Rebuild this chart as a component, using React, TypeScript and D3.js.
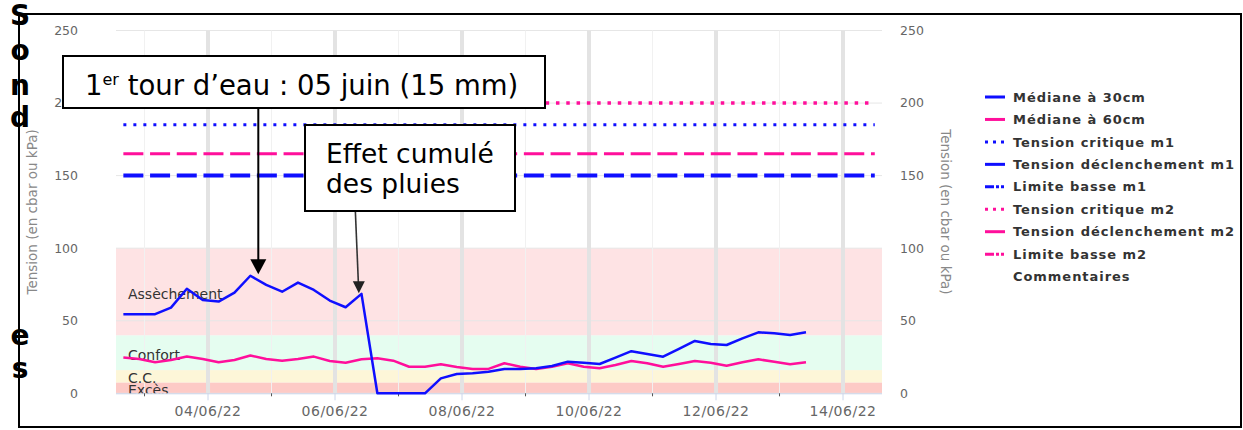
import React from 'react';
import * as d3 from 'd3';

// regular 6-hourly readings, first one on 02/06/22 at 16:00
const firstReading = new Date(2022, 5, 2, 16);
const stepHours = 6;

const median30 = [
  54.5, 54.5, 54.5, 59, 72, 64.3, 63.2, 69.4, 81, 74.7, 70, 76.3, 71.2, 63.9, 59.3, 68.5,
  0, 0, 0, 0, 10.3, 13.3, 13.8, 14.9, 16.8, 16.8, 17.2, 18.8, 21.8, 21.1, 20.2, 24.6,
  29, 27.1, 25.2, 30.6, 36.1, 34, 33.3, 37.9, 42, 41.4, 40.2, 42,
];
const median60 = [
  24.6, 23.7, 21.4, 23, 25.3, 23.7, 21.4, 23, 26, 23.7, 22.4, 23.7, 25.3, 22.3, 21.1, 23.4,
  24.1, 22.5, 18.3, 18.3, 20, 18.1, 16.8, 16.8, 20.7, 18.3, 16.8, 18.3, 20.7, 18.3, 17.2, 19.5,
  22.3, 20.7, 18.3, 20.2, 22.3, 21.1, 19, 21.4, 23.4, 21.8, 20, 21.4,
];

const thresholdNames = ['Tension critique m2', 'Tension critique m1', 'Tension déclenchement m2', 'Tension déclenchement m1'];
const thresholdValues = [200, 185, 165, 150];
const thresholdEnd = new Date(2022, 5, 14, 12);

const bandEdges = [0, 7.5, 16, 40, 100];
const bandLabels = ['Excès', 'C.C.', 'Confort', 'Assèchement'];

const yTicks = [0, 50, 100, 150, 200, 250];
const legendLabels = [
  'Médiane à 30cm',
  'Médiane à 60cm',
  'Tension critique m1',
  'Tension déclenchement m1',
  'Limite basse m1',
  'Tension critique m2',
  'Tension déclenchement m2',
  'Limite basse m2',
  'Commentaires',
];
const sideLetters = ['S', 'o', 'n', 'd', 'e', 's'];

// arrow targets of the two call-outs
const arrowTargets = [
  { date: new Date(2022, 5, 4, 19), value: 82 },
  { date: new Date(2022, 5, 6, 9), value: 69 },
];

const BLUE = '#0f0fff';
const PINK = '#ff0f9b';
const FONT = '"DejaVu Sans", Verdana, sans-serif';

const thresholdStyle = [
  { color: PINK, width: 3.5, dash: '3.5,6.8' },
  { color: BLUE, width: 3, dash: '3,7' },
  { color: PINK, width: 3, dash: '20,6.7' },
  { color: BLUE, width: 4, dash: '20,6.7' },
];
const bandColors = ['#fdcac6', '#fdf6d8', '#e5fdf0', '#fee3e4'];
const legendStyle = [
  { color: BLUE, dash: null },
  { color: PINK, dash: null },
  { color: BLUE, dash: '3,5' },
  { color: BLUE, dash: null },
  { color: BLUE, dash: '9,2,3,2,3,2' },
  { color: PINK, dash: '3,5' },
  { color: PINK, dash: null },
  { color: PINK, dash: '9,2,3,2,3,2' },
  null,
];

export default function App() {
  const width = 1243;
  const height = 430;
  const plot = { left: 116, right: 882, top: 30.5, bottom: 393.3 };

  const x = d3
    .scaleTime()
    .domain([new Date(2022, 5, 2, 13, 13), new Date(2022, 5, 14, 14, 44)])
    .range([plot.left, plot.right]);
  const y = d3.scaleLinear().domain([0, 250]).range([plot.bottom, plot.top]);

  const times = median30.map((_, i) => d3.timeHour.offset(firstReading, i * stepHours));
  const line = d3
    .line<number>()
    .x((_, i) => x(times[i]))
    .y((d) => y(d));

  const days = d3.timeDay.range(new Date(2022, 5, 3), new Date(2022, 5, 15));
  const labelDays = days.filter((d) => d.getDate() % 2 === 0);
  const fmt = d3.timeFormat('%d/%m/%y');

  const a1 = { x: x(arrowTargets[0].date), y: y(arrowTargets[0].value) };
  const a2 = { x: x(arrowTargets[1].date), y: y(arrowTargets[1].value) };

  return (
    <svg
      width={width}
      height={height}
      style={{ position: 'absolute', left: 0, top: 0, background: '#fff' }}
      fontFamily={FONT}
    >
      <defs>
        <clipPath id="plotClip">
          <rect x={plot.left} y={plot.top} width={plot.right - plot.left} height={plot.bottom - plot.top} />
        </clipPath>
      </defs>

      {/* bands */}
      {bandLabels.map((_, i) => (
        <rect
          key={'b' + i}
          x={plot.left}
          width={plot.right - plot.left}
          y={y(bandEdges[i + 1])}
          height={y(bandEdges[i]) - y(bandEdges[i + 1])}
          fill={bandColors[i]}
        />
      ))}

      {/* grid */}
      {yTicks.map((t) => (
        <line key={'h' + t} x1={plot.left} x2={plot.right} y1={y(t)} y2={y(t)} stroke="#e6e6e6" strokeWidth={1} />
      ))}
      {days.map((d) => {
        const thick = d.getDate() % 2 === 0;
        return (
          <line
            key={'v' + d.getTime()}
            x1={x(d)}
            x2={x(d)}
            y1={plot.top}
            y2={plot.bottom}
            stroke={thick ? '#e3e3e3' : '#f1f1f1'}
            strokeWidth={thick ? 4 : 1}
          />
        );
      })}

      {/* x axis */}
      <line x1={plot.left} x2={plot.right} y1={plot.bottom + 0.5} y2={plot.bottom + 0.5} stroke="#ccd6eb" />
      {days.map((d) => {
        const major = d.getDate() % 2 === 0;
        return (
          <line
            key={'t' + d.getTime()}
            x1={x(d)}
            x2={x(d)}
            y1={plot.bottom}
            y2={plot.bottom + (major ? 7 : 3)}
            stroke={major ? '#ccd6eb' : '#555'}
          />
        );
      })}
      {labelDays.map((d) => (
        <text
          key={'l' + d.getTime()}
          x={x(d)}
          y={416}
          textAnchor="middle"
          fontSize={14}
          letterSpacing={0.5}
          fill="#666"
        >
          {fmt(d)}
        </text>
      ))}

      {/* y axes */}
      {yTicks.map((t) => (
        <g key={'yl' + t} fontSize={12.5} fill="#666">
          <text x={78} y={y(t)} dy="0.35em" textAnchor="end">
            {t}
          </text>
          <text x={900} y={y(t)} dy="0.35em" textAnchor="start">
            {t}
          </text>
        </g>
      ))}
      <text
        transform={`translate(37,${y(125)}) rotate(-90)`}
        textAnchor="middle"
        fontSize={13.5}
        fill="#888"
      >
        Tension (en cbar ou kPa)
      </text>
      <text
        transform={`translate(941,${y(125)}) rotate(90)`}
        textAnchor="middle"
        fontSize={13.5}
        fill="#888"
      >
        Tension (en cbar ou kPa)
      </text>

      {/* band labels */}
      <g clipPath="url(#plotClip)">
        {bandLabels.map((lab, i) => (
          <text
            key={'bl' + i}
            x={128}
            y={(y(bandEdges[i]) + y(bandEdges[i + 1])) / 2 + 2}
            dy="0.35em"
            fontSize={14}
            fill="#333"
          >
            {lab}
          </text>
        ))}
      </g>

      {/* threshold lines */}
      {thresholdValues.map((v, i) => (
        <line
          key={'th' + i}
          x1={x(firstReading)}
          x2={x(thresholdEnd)}
          y1={y(v)}
          y2={y(v)}
          stroke={thresholdStyle[i].color}
          strokeWidth={thresholdStyle[i].width}
          strokeDasharray={thresholdStyle[i].dash}
        >
          <title>{thresholdNames[i]}</title>
        </line>
      ))}

      {/* series */}
      <path d={line(median60) || ''} fill="none" stroke={PINK} strokeWidth={2.5} strokeLinejoin="round" />
      <path d={line(median30) || ''} fill="none" stroke={BLUE} strokeWidth={2.5} strokeLinejoin="round" />

      {/* legend */}
      {legendLabels.map((lab, i) => {
        const cy = 97 + i * 22.45;
        const st = legendStyle[i];
        return (
          <g key={'lg' + i}>
            {st && (
              <line
                x1={985}
                x2={1005}
                y1={cy}
                y2={cy}
                stroke={st.color}
                strokeWidth={3}
                strokeDasharray={st.dash || undefined}
              />
            )}
            <text
              x={1013}
              y={cy}
              dy="0.36em"
              fontSize={13}
              fontWeight="bold"
              letterSpacing={0.95}
              fill="#333"
            >
              {lab}
            </text>
          </g>
        );
      })}

      {/* call-outs */}
      <line x1={a1.x} x2={a1.x} y1={108} y2={a1.y - 14} stroke="#000" strokeWidth={2} />
      <path d={`M${a1.x - 8},${a1.y - 15} L${a1.x + 8},${a1.y - 15} L${a1.x},${a1.y} Z`} fill="#000" />
      <line x1={a2.x - 3.5} x2={a2.x - 0.5} y1={211} y2={a2.y - 11} stroke="#333" strokeWidth={1.6} />
      <path d={`M${a2.x - 6},${a2.y - 12} L${a2.x + 6},${a2.y - 12} L${a2.x},${a2.y} Z`} fill="#222" />

      <rect x={63} y={56} width={482} height={52} fill="#fff" stroke="#000" strokeWidth={2} />
      <text x={85} y={95} fontSize={27.5} fill="#000">
        1<tspan fontSize={16} dy={-10}>er</tspan>
        <tspan dy={10}> tour d’eau : 05 juin (15 mm)</tspan>
      </text>

      <rect x={305} y={125} width={210} height={86} fill="#fff" stroke="#000" strokeWidth={2} />
      <text x={326} y={163} fontSize={26.5} fill="#000">
        Effet cumulé
      </text>
      <text x={326} y={193} fontSize={26.5} fill="#000">
        des pluies
      </text>

      {/* frame and side title */}
      <rect x={19} y={14} width={1222} height={413} fill="none" stroke="#000" strokeWidth={2} />
      {sideLetters.map((c, i) => (
        <text
          key={'s' + i}
          x={20}
          y={[15, 50, 85, 117, 335, 368][i]}
          dy="0.36em"
          textAnchor="middle"
          fontSize={28}
          fontWeight="bold"
          fill="#000"
        >
          {c}
        </text>
      ))}
    </svg>
  );
}
